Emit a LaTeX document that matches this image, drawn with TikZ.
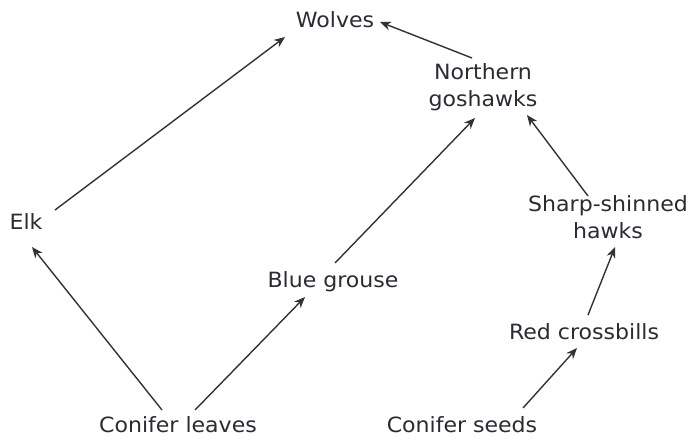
\documentclass[tikz,border=0pt]{standalone}
\usepackage{fontspec}
\setmainfont{DejaVu Sans}[FakeStretch=1.05]
\usetikzlibrary{arrows.meta,calc}
\definecolor{txt}{HTML}{2B2B33}
\definecolor{ln}{HTML}{333333}
\tikzset{
  lbl/.style={text=txt, align=center, inner sep=0pt, font=\fontsize{21}{27}\selectfont},
  arr/.style={draw=ln, line width=1.4pt, -{Stealth[length=11pt,width=9pt]}}
}
\begin{document}
\begin{tikzpicture}[x=1pt,y=-1pt]
\useasboundingbox (0,0) rectangle (692,442);
\fill[white] (0,0) rectangle (692,442);
\node[lbl] (wolves) at (335,20) {Wolves};
\node[lbl] (gos) at (483,87) {Northern\\goshawks};
\node[lbl] (sharp) at (608,217) {Sharp-shinned\\hawks};
\node[lbl] (elk) at (26,222) {Elk};
\node[lbl] (grouse) at (333,282) {Blue grouse};
\node[lbl] (red) at (584,332) {Red crossbills};
\node[lbl] (leaves) at (178,425) {Conifer leaves};
\node[lbl] (seeds) at (462,425) {Conifer seeds};
\draw[arr] ($(elk)+(29,-12)$) -- ($(wolves)+(-50,17)$);
\draw[arr] ($(leaves)+(-16,-15)$) -- ($(elk)+(6,25)$);
\draw[arr] ($(leaves)+(17,-15)$) -- ($(grouse)+(-28,15)$);
\draw[arr] ($(grouse)+(2,-19)$) -- ($(gos)+(-8,31)$);
\draw[arr] ($(gos)+(-11,-29)$) -- ($(wolves)+(45,2)$);
\draw[arr] ($(sharp)+(-20,-21)$) -- ($(gos)+(44,28)$);
\draw[arr] ($(red)+(4,-17)$) -- ($(sharp)+(7,30)$);
\draw[arr] ($(seeds)+(61,-17)$) -- ($(red)+(-7,16)$);
\end{tikzpicture}
\end{document}
